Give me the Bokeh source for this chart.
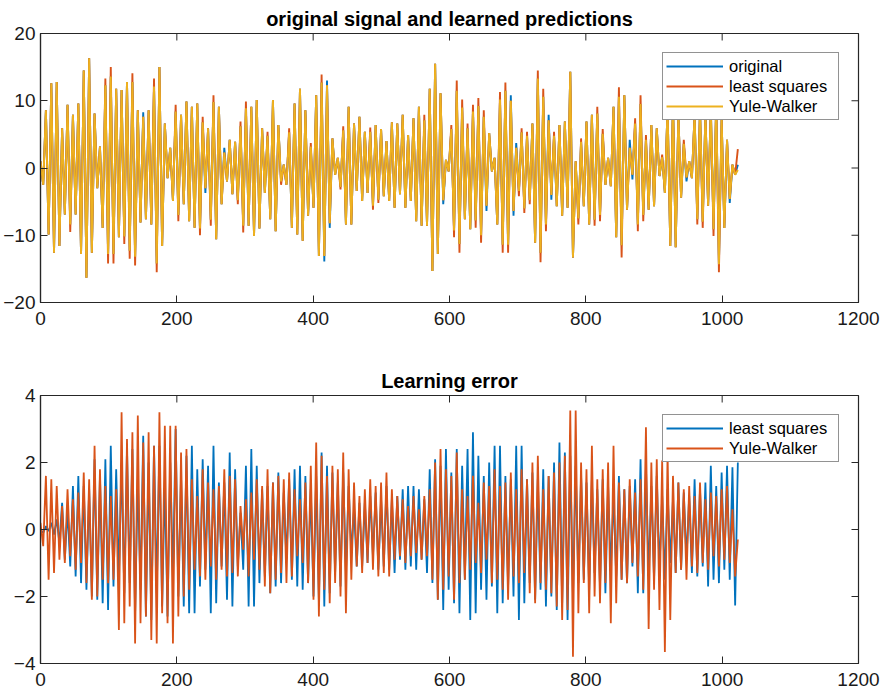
import numpy as np
from bokeh.plotting import figure
from bokeh.layouts import column
from bokeh.models import Legend, LegendItem, FixedTicker, Range1d
from bokeh.embed import file_html
from bokeh.resources import INLINE

# ---- data: successive extremes of the signals (one value every ~4 samples) ----
N_SAMPLES = 1023

original = [
    1.0, -2.5, 8.6, -9.9, 12.6, -12.6, 12.8, -11.6, 5.9, -6.9,
    9.4, -8.4, 7.9, -6.9, 9.6, -12.8, 14.5, -16.3, 16.3, -12.6,
    8.1, -3.0, 3.2, -8.9, 12.3, -12.8, 13.6, -12.8, 11.8, -10.3,
    11.6, -10.2, 12.8, -12.3, 12.8, -13.2, 8.6, -8.1, 8.3, -7.6,
    8.6, -8.4, 12.1, -14.2, 15.0, -11.6, 6.6, -1.5, 3.0, -4.9,
    8.4, -7.0, 7.9, -5.4, 9.9, -7.9, 9.1, -8.9, 9.6, -9.0,
    6.8, -3.7, 5.9, -7.7, 9.8, -10.6, 9.1, -5.4, 3.0, -2.0,
    4.2, -3.9, 3.9, -4.8, 6.2, -8.6, 8.9, -8.6, 9.1, -10.1,
    10.1, -9.0, 5.9, -3.7, 4.8, -7.6, 10.1, -9.4, 6.4, -2.0,
    0.5, -2.5, 5.3, -8.9, 9.6, -9.9, 11.8, -10.8, 8.6, -7.1,
    3.2, -5.9, 10.8, -13.1, 12.7, -13.9, 13.0, -8.9, 4.4, -1.0,
    1.5, -2.8, 5.6, -8.4, 9.1, -8.4, 6.6, -3.4, 7.6, -4.9,
    5.4, -3.7, 5.4, -5.6, 6.4, -4.7, 5.8, -4.2, 4.0, -4.9,
    6.8, -5.9, 6.6, -3.9, 7.9, -5.9, 4.9, -4.9, 7.4, -7.9,
    9.1, -8.6, 7.1, -8.6, 11.8, -15.3, 15.5, -12.8, 11.1, -5.4,
    1.2, -0.5, 5.8, -9.3, 11.5, -11.3, 9.0, -7.6, 5.9, -9.1,
    8.4, -7.8, 9.2, -10.0, 7.6, -6.4, 5.2, -0.5, 1.5, -8.4,
    10.2, -11.4, 11.5, -11.4, 10.8, -7.1, 3.7, -3.4, 5.3, -6.0,
    4.8, -4.8, 6.6, -11.1, 13.3, -12.6, 10.6, -8.4, 7.9, -4.7,
    4.8, -5.7, 6.4, -7.1, 6.9, -5.9, 14.3, -13.3, 1.0, -7.5,
    3.9, -5.7, 6.9, -8.4, 7.9, -7.7, 8.1, -7.0, 5.1, -2.5,
    1.5, -2.7, 9.1, -10.3, 10.6, -11.5, 10.8, -6.2, 4.2, -1.7,
    6.6, -8.4, 9.5, -7.0, 4.2, -6.2, 6.4, -5.7, 5.9, -1.2,
    1.6, -3.7, 9.0, -11.6, 10.0, -11.8, 8.0, -4.4, 3.6, -2.0,
    1.0, -1.5, 8.0, -7.6, 8.9, -8.0, 8.0, -5.6, 9.0, -9.1,
    10.0, -14.3, 7.4, -8.9, 4.2, -5.2, 0.5, -1.0, 0.5,
]

least_squares = [
    1.0, -2.5, 8.6, -9.9, 12.6, -12.6, 12.8, -11.6, 5.9, -6.9,
    9.4, -9.5, 7.9, -6.9, 9.6, -12.8, 14.5, -16.3, 16.3, -12.6,
    8.1, -3.0, 3.2, -8.9, 13.3, -14.2, 15.0, -14.2, 11.8, -10.3,
    11.6, -11.3, 12.8, -13.5, 14.1, -14.5, 8.6, -8.1, 7.6, -7.6,
    8.6, -8.4, 13.3, -15.5, 15.0, -11.6, 6.6, -1.5, 3.0, -4.9,
    9.4, -7.9, 7.9, -5.4, 9.9, -7.9, 9.1, -8.9, 9.6, -10.0,
    7.6, -3.0, 5.9, -8.6, 10.8, -10.6, 9.1, -5.4, 2.3, -2.0,
    4.2, -3.9, 3.9, -5.4, 6.9, -9.6, 9.9, -8.6, 9.1, -10.1,
    10.1, -9.0, 5.9, -3.7, 5.4, -7.6, 10.1, -9.4, 6.4, -2.5,
    0.5, -2.5, 5.9, -8.9, 9.6, -9.9, 11.8, -10.8, 8.6, -7.1,
    3.7, -5.9, 10.8, -13.1, 13.9, -13.1, 12.3, -8.2, 4.4, -1.0,
    1.5, -3.2, 6.2, -8.4, 9.1, -8.4, 6.6, -3.4, 7.6, -4.9,
    5.4, -3.7, 6.0, -6.2, 6.4, -5.2, 5.8, -4.2, 4.0, -4.9,
    6.8, -5.9, 6.6, -3.9, 7.9, -5.9, 4.9, -4.9, 7.4, -7.9,
    9.1, -8.6, 7.9, -8.6, 11.8, -15.3, 15.5, -12.8, 11.1, -4.8,
    1.2, -0.5, 6.4, -10.3, 13.0, -12.6, 10.2, -7.6, 6.6, -9.1,
    9.4, -8.9, 10.4, -11.1, 8.6, -5.6, 5.2, -0.5, 1.5, -8.4,
    11.3, -12.6, 12.7, -12.6, 10.0, -6.4, 3.0, -4.2, 5.9, -6.7,
    5.4, -5.4, 6.6, -11.1, 14.5, -14.0, 11.8, -9.4, 7.1, -4.0,
    5.4, -5.7, 6.4, -7.1, 6.9, -5.9, 14.3, -13.3, 1.0, -8.4,
    4.4, -5.7, 6.9, -8.4, 7.9, -8.6, 9.1, -7.9, 5.8, -2.5,
    1.5, -2.7, 9.1, -10.3, 12.0, -13.3, 10.8, -6.2, 3.0, -1.0,
    7.4, -9.4, 10.8, -7.9, 4.9, -6.2, 6.4, -5.7, 5.9, -1.2,
    2.0, -3.7, 9.0, -11.6, 10.0, -11.8, 8.0, -4.4, 4.2, -1.4,
    1.0, -1.5, 8.0, -8.4, 8.9, -8.9, 8.0, -5.6, 9.0, -10.1,
    10.0, -15.5, 7.4, -8.9, 4.2, -4.6, 0.5, -1.0, 2.8,
]

yule_walker = [
    1.0, -2.5, 8.6, -9.9, 12.6, -12.6, 12.8, -11.6, 5.9, -6.9,
    9.4, -8.4, 7.9, -6.9, 9.6, -12.8, 14.5, -16.3, 16.3, -12.6,
    8.1, -3.0, 3.2, -8.9, 12.3, -12.8, 13.6, -12.8, 11.8, -10.3,
    11.6, -10.2, 12.8, -12.3, 12.8, -13.2, 8.6, -8.1, 7.6, -7.6,
    8.6, -8.4, 12.1, -14.2, 15.0, -11.6, 6.6, -1.5, 3.0, -4.9,
    8.4, -7.0, 7.9, -5.4, 9.9, -7.9, 9.1, -8.9, 9.6, -9.0,
    6.8, -3.0, 5.9, -7.7, 9.8, -10.6, 9.1, -5.4, 2.3, -2.0,
    4.2, -3.9, 3.9, -4.8, 6.2, -8.6, 8.9, -8.6, 9.1, -10.1,
    10.1, -9.0, 5.9, -3.7, 4.8, -7.6, 10.1, -9.4, 6.4, -2.0,
    0.5, -2.5, 5.3, -8.9, 9.6, -9.9, 11.8, -10.8, 8.6, -7.1,
    3.2, -5.9, 10.8, -13.1, 12.7, -13.1, 12.3, -8.2, 4.4, -1.0,
    1.5, -2.8, 5.6, -8.4, 9.1, -8.4, 6.6, -3.4, 7.6, -4.9,
    5.4, -3.7, 5.4, -5.6, 6.4, -4.7, 5.8, -4.2, 4.0, -4.9,
    6.8, -5.9, 6.6, -3.9, 7.9, -5.9, 4.9, -4.9, 7.4, -7.9,
    9.1, -8.6, 7.1, -8.6, 11.8, -15.3, 15.5, -12.8, 11.1, -4.8,
    1.2, -0.5, 5.8, -9.3, 11.5, -11.3, 9.0, -7.6, 5.9, -9.1,
    8.4, -7.8, 9.2, -10.0, 7.6, -5.6, 5.2, -0.5, 1.5, -8.4,
    10.2, -11.4, 11.5, -11.4, 10.0, -6.4, 3.0, -3.4, 5.3, -6.0,
    4.8, -4.8, 6.6, -11.1, 13.3, -12.6, 10.6, -8.4, 7.1, -4.0,
    4.8, -5.7, 6.4, -7.1, 6.9, -5.9, 14.3, -13.3, 1.0, -7.5,
    3.9, -5.7, 6.9, -8.4, 7.9, -7.7, 8.1, -7.0, 5.1, -2.5,
    1.5, -2.7, 9.1, -10.3, 10.6, -11.5, 10.8, -6.2, 3.0, -1.0,
    6.6, -8.4, 9.5, -7.0, 4.2, -6.2, 6.4, -5.7, 5.9, -1.2,
    1.6, -3.7, 9.0, -11.6, 10.0, -11.8, 8.0, -4.4, 3.6, -1.4,
    1.0, -1.5, 8.0, -7.6, 8.9, -8.0, 8.0, -5.6, 9.0, -9.1,
    10.0, -14.3, 7.4, -8.9, 4.2, -4.6, 0.5, -1.0, -0.3,
]

error_least_squares = [
    0.0, -0.1, 0.1, -0.05, 0.2, -0.15, 0.3, -0.4, 0.8, -0.9,
    0.6, -1.1, 1.3, -1.4, 1.6, -1.6, 1.3, -1.8, 1.2, -2.0,
    2.1, -2.1, 1.6, -2.2, 2.1, -2.4, 2.5, -1.7, 1.8, -1.4,
    2.0, -1.9, 2.4, -1.6, 2.4, -2.5, 1.5, -1.8, 2.8, -2.6,
    2.0, -2.7, 2.5, -1.9, 2.5, -2.3, 1.4, -2.6, 2.0, -1.5,
    3.0, -2.0, 1.6, -2.3, 2.2, -2.5, 2.5, -2.5, 1.8, -1.7,
    2.1, -1.2, 1.9, -2.5, 2.5, -2.2, 1.4, -1.1, 1.4, -2.1,
    2.3, -2.3, 1.8, -1.1, 0.5, -1.2, 1.9, -2.3, 2.4, -2.3,
    1.9, -1.6, 1.2, -1.4, 1.3, -1.9, 1.4, -1.7, 1.7, -1.6,
    1.1, -0.9, 1.5, -1.5, 1.8, -1.7, 1.9, -1.8, 1.6, -1.6,
    1.2, -2.0, 1.6, -2.1, 2.3, -2.3, 1.9, -1.9, 1.7, -1.3,
    1.4, -1.7, 1.7, -1.3, 1.3, -0.7, 0.6, -1.1, 0.8, -1.1,
    0.8, -1.0, 1.0, -0.8, 1.1, -1.2, 0.9, -1.1, 1.3, -1.2,
    0.9, -1.3, 1.0, -0.9, 1.2, -1.2, 1.3, -1.1, 1.3, -1.2,
    1.2, -0.9, 0.9, -1.3, 1.8, -1.6, 2.1, -2.1, 1.9, -2.4,
    2.4, -1.8, 1.7, -2.2, 2.4, -2.5, 1.9, -1.5, 2.4, -2.7,
    2.9, -2.5, 2.2, -1.8, 1.6, -2.1, 2.0, -1.7, 2.5, -2.5,
    2.5, -2.2, 1.6, -1.7, 1.5, -2.0, 2.5, -2.7, 2.5, -2.2,
    1.5, -1.6, 1.7, -2.1, 1.5, -1.8, 1.8, -2.3, 1.6, -2.0,
    2.0, -2.4, 2.6, -2.2, 2.3, -2.7, 2.2, -2.0, 1.9, -1.6,
    1.6, -1.5, 1.4, -1.8, 1.5, -1.3, 1.2, -1.7, 1.5, -1.9,
    1.3, -1.2, 1.0, -1.4, 1.6, -1.5, 1.2, -1.6, 1.3, -1.1,
    1.5, -1.9, 2.1, -1.9, 1.9, -1.4, 1.3, -1.5, 1.6, -1.2,
    1.0, -1.5, 1.2, -1.0, 0.9, -1.3, 1.4, -1.2, 1.1, -0.9,
    1.0, -1.3, 1.5, -1.4, 1.2, -1.1, 1.4, -1.7, 1.9, -1.5,
    1.3, -1.6, 1.7, -1.2, 1.9, -1.5, 1.86, -2.27, 2.0,
]

error_yule_walker = [
    0.2, -0.5, 1.6, -1.5, 1.5, -1.3, 1.3, -0.9, 0.7, -1.0,
    1.2, -0.8, 0.9, -1.2, 1.1, -1.0, 1.7, -1.6, 1.5, -2.1,
    2.5, -2.0, 1.8, -1.5, 1.3, -1.6, 1.0, -1.5, 1.2, -3.0,
    3.5, -2.8, 2.7, -2.3, 2.9, -3.4, 3.4, -2.8, 2.6, -2.6,
    2.9, -3.3, 2.5, -3.4, 3.5, -2.5, 3.1, -2.8, 3.1, -3.4,
    3.1, -2.6, 2.3, -2.0, 2.4, -1.8, 1.5, -1.2, 1.0, -1.4,
    1.8, -1.5, 1.4, -1.1, 1.2, -1.5, 1.3, -1.2, 1.8, -1.4,
    1.6, -1.3, 1.5, -1.4, 0.7, -0.6, 0.9, -1.4, 1.1, -0.9,
    1.5, -1.2, 1.3, -1.7, 1.8, -1.9, 1.4, -1.5, 1.6, -1.3,
    1.5, -1.6, 1.7, -1.4, 1.2, -0.8, 0.9, -1.0, 1.4, -1.6,
    1.9, -2.1, 2.6, -2.6, 2.2, -1.8, 1.6, -2.2, 1.9, -1.6,
    1.8, -2.0, 2.3, -2.5, 1.8, -1.5, 1.4, -1.1, 1.0, -1.3,
    1.2, -1.0, 1.5, -1.2, 1.3, -1.4, 1.4, -1.3, 1.7, -1.4,
    1.2, -0.9, 1.0, -0.8, 0.9, -1.0, 0.7, -0.8, 1.0, -0.7,
    0.6, -0.9, 1.0, -0.8, 1.2, -1.5, 2.0, -2.1, 2.4, -1.8,
    1.8, -1.4, 1.6, -2.1, 2.3, -1.6, 1.2, -1.5, 1.0, -1.2,
    1.6, -1.0, 0.8, -1.3, 1.4, -0.9, 1.3, -1.6, 1.8, -1.5,
    1.3, -1.8, 1.4, -2.1, 1.7, -1.4, 1.2, -1.6, 1.8, -1.3,
    1.5, -1.9, 2.0, -2.2, 2.2, -1.6, 1.2, -1.8, 1.6, -1.9,
    1.7, -2.3, 2.0, -2.7, 2.2, -2.4, 3.55, -3.8, 3.55, -2.5,
    2.0, -1.6, 1.8, -2.5, 2.5, -2.0, 1.5, -2.2, 1.8, -1.6,
    2.0, -2.8, 2.5, -2.2, 1.4, -1.5, 1.2, -1.6, 1.5, -1.0,
    1.1, -1.4, 1.5, -1.8, 3.05, -2.97, 2.0, -1.8, 2.1, -2.4,
    2.06, -3.66, 2.3, -2.7, 1.6, -1.3, 1.4, -1.2, 1.2, -1.5,
    1.3, -1.1, 1.0, -1.3, 1.4, -1.0, 0.9, -1.2, 1.1, -0.8,
    1.0, -1.1, 1.2, -0.9, 1.3, -1.0, 0.6, -1.4, -0.3,
]

x_ticks = [0, 200, 400, 600, 800, 1000, 1200]
top_y_ticks = [-20, -10, 0, 10, 20]
bottom_y_ticks = [-4, -2, 0, 2, 4]

BLUE = "#0072BD"
ORANGE = "#D95319"
YELLOW = "#EDB120"
INK = "#262626"
FONT = "Liberation Sans"
X_MAX = 1200


def sample_axis(series):
    return np.linspace(0, N_SAMPLES, len(series))


def style_axis(ax, ticks, standoff):
    ax.ticker = FixedTicker(ticks=ticks)
    ax.major_tick_in = 7
    ax.major_tick_out = 0
    ax.minor_tick_line_color = None
    ax.major_tick_line_color = INK
    ax.axis_line_color = INK
    ax.axis_line_width = 1.2
    ax.major_label_text_font = FONT
    ax.major_label_text_font_size = "19px"
    ax.major_label_text_color = "#1a1a1a"
    ax.major_label_standoff = standoff


def panel(title, y_range, y_ticks, height, top, bottom):
    p = figure(width=883, height=height, x_range=Range1d(0, X_MAX),
               y_range=Range1d(*y_range), output_backend="svg",
               toolbar_location=None, min_border_left=40, min_border_right=25,
               min_border_top=top, min_border_bottom=bottom)
    p.title.text = title
    p.title.align = "center"
    p.title.text_font = FONT
    p.title.text_font_size = "20px"
    p.title.text_font_style = "bold"
    p.title.text_color = "#000000"
    p.title.standoff = 7
    p.xgrid.visible = False
    p.ygrid.visible = False
    p.outline_line_color = INK
    p.outline_line_width = 1.2
    style_axis(p.xaxis[0], x_ticks, 9)
    style_axis(p.yaxis[0], y_ticks, 5)
    # box-style tick marks on the top and right edges of the frame
    p.ray(x=x_ticks, y=[y_range[1]] * len(x_ticks), length=7, length_units="screen",
          angle=-np.pi / 2, line_color=INK, line_width=1)
    p.ray(x=[X_MAX] * len(y_ticks), y=y_ticks, length=7, length_units="screen",
          angle=np.pi, line_color=INK, line_width=1)
    return p


def add_legend(p, items):
    leg = Legend(items=items, location="top_right")
    leg.label_text_font = FONT
    leg.label_text_font_size = "16.5px"
    leg.label_text_color = "#000000"
    leg.glyph_width = 57
    leg.glyph_height = 20
    leg.label_height = 20
    leg.label_width = 106
    leg.label_standoff = 6
    leg.spacing = 0
    leg.padding = 3
    leg.margin = 19
    leg.border_line_color = INK
    leg.border_line_width = 1.2
    leg.background_fill_color = "white"
    leg.background_fill_alpha = 1.0
    p.add_layout(leg)


# ---- upper panel: signal and the two model predictions ----
top = panel("original signal and learned predictions", (-20, 20), top_y_ticks, 347, 33, 45)
r_orig = top.line(sample_axis(original), original, line_color=BLUE, line_width=1.9)
r_ls = top.line(sample_axis(least_squares), least_squares, line_color=ORANGE, line_width=1.9)
r_yw = top.line(sample_axis(yule_walker), yule_walker, line_color=YELLOW, line_width=1.9)
add_legend(top, [LegendItem(label="original", renderers=[r_orig]),
                 LegendItem(label="least squares", renderers=[r_ls]),
                 LegendItem(label="Yule-Walker", renderers=[r_yw])])

# ---- lower panel: learning error of each model ----
bottom = panel("Learning error", (-4, 4), bottom_y_ticks, 347, 48, 31)
e_ls = bottom.line(sample_axis(error_least_squares), error_least_squares, line_color=BLUE, line_width=1.8)
e_yw = bottom.line(sample_axis(error_yule_walker), error_yule_walker, line_color=ORANGE, line_width=1.8)
add_legend(bottom, [LegendItem(label="least squares", renderers=[e_ls]),
                    LegendItem(label="Yule-Walker", renderers=[e_yw])])

layout = column(top, bottom, spacing=0)
open("out.html", "w").write(file_html(layout, INLINE))
